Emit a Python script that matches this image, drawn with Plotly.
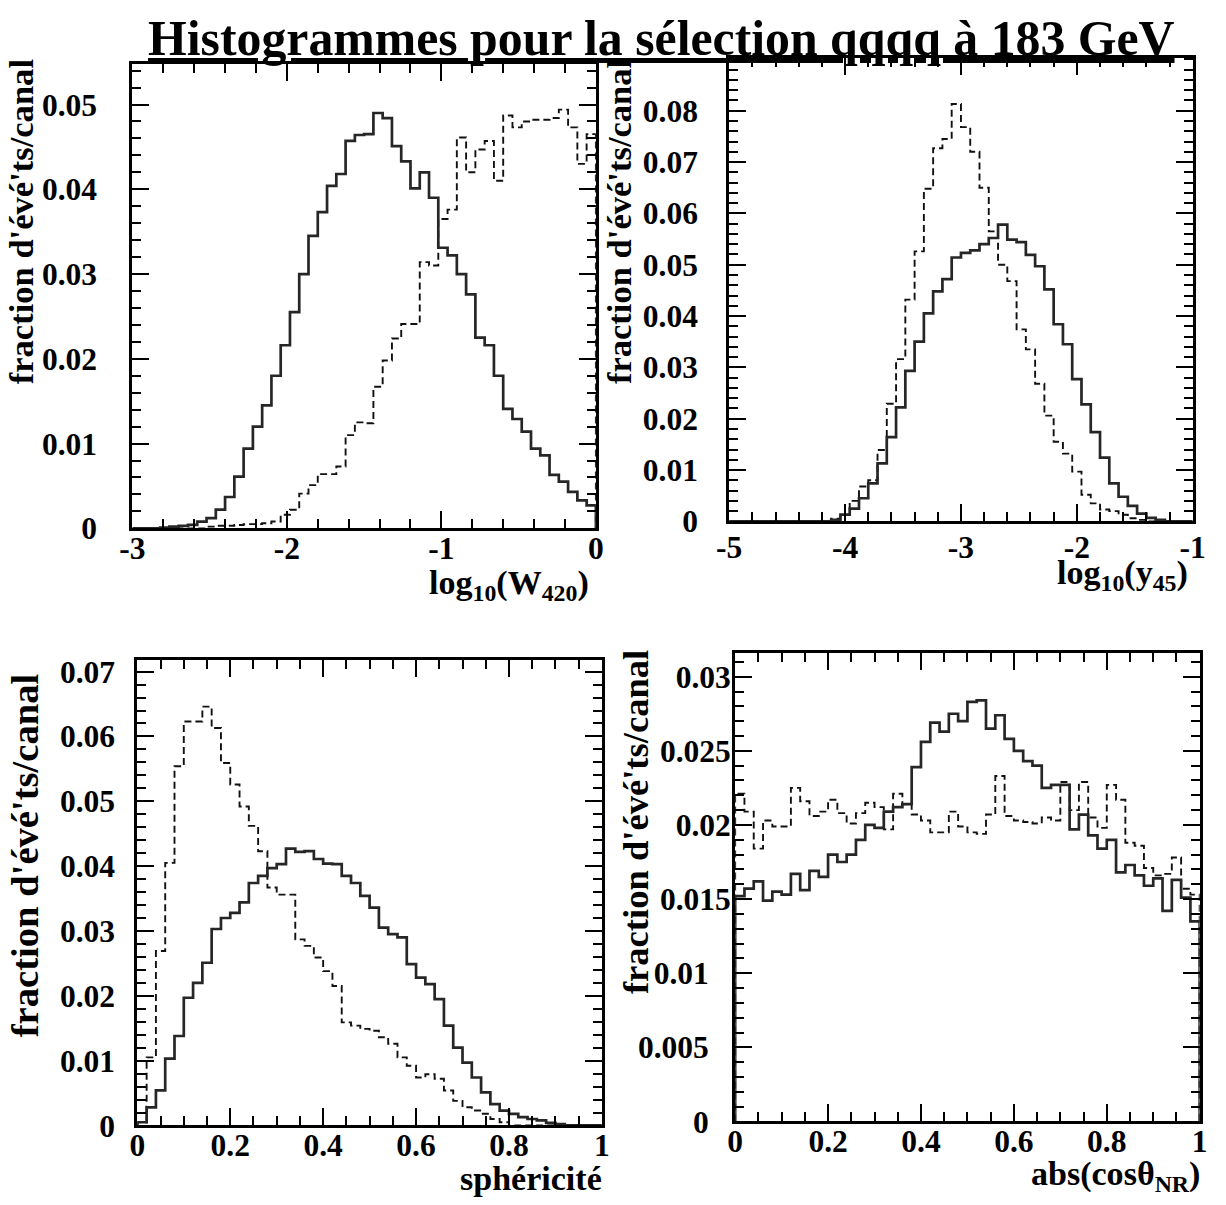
import numpy as np
import plotly.graph_objects as go

W, H = 1226, 1205
# the photographed page comes out slightly reduced (about 0.984) and shifted;
# target pixel positions (read on the reference) are mapped back through this.
S, OX, OY = 0.984, 10.0, 3.0

# ---------------- data (50 bins per histogram) ----------------
w420_lo, w420_hi = -3.0, 0.0
w420_solid = [0, 0, 0, 0.0001, 0.0002, 0.0003, 0.0004, 0.0008, 0.0012, 0.0022,
              0.0037, 0.0061, 0.0094, 0.0120, 0.0145, 0.0180, 0.0216, 0.0255, 0.0300, 0.0345,
              0.0373, 0.0404, 0.0418, 0.0457, 0.0464, 0.0465, 0.0490, 0.0484, 0.0451, 0.0433,
              0.0401, 0.0420, 0.0390, 0.0331, 0.0322, 0.0300, 0.0276, 0.0225, 0.0216, 0.0180,
              0.0141, 0.0129, 0.0114, 0.0094, 0.0086, 0.0063, 0.0055, 0.0043, 0.0033, 0.0027]
w420_dashed = [0, 0, 0, 0, 0, 0, 0, 0, 0.0002, 0.0003,
               0.0003, 0.0004, 0.0005, 0.0005, 0.0006, 0.0008, 0.0016, 0.0022, 0.0041, 0.0051,
               0.0064, 0.0064, 0.0073, 0.0110, 0.0125, 0.0124, 0.0167, 0.0198, 0.0224, 0.0241,
               0.0241, 0.0314, 0.0310, 0.0365, 0.0376, 0.0461, 0.0420, 0.0447, 0.0457, 0.0410,
               0.0487, 0.0473, 0.0480, 0.0482, 0.0482, 0.0484, 0.0494, 0.0473, 0.0430, 0.0465]

y45_lo, y45_hi = -5.0, -1.0
y45_solid = [0, 0, 0, 0, 0, 0, 0, 0, 0, 0,
             0, 0.0003, 0.0013, 0.0025, 0.0045, 0.0074, 0.0113, 0.0164, 0.0222, 0.0293,
             0.0350, 0.0405, 0.0448, 0.0472, 0.0514, 0.0523, 0.0528, 0.0540, 0.0552, 0.0578,
             0.0549, 0.0544, 0.0519, 0.0497, 0.0452, 0.0384, 0.0345, 0.0277, 0.0228, 0.0174,
             0.0124, 0.0074, 0.0048, 0.0030, 0.0015, 0.0007, 0.0003, 0, 0, 0]
y45_dashed = [0, 0, 0, 0, 0, 0, 0, 0, 0, 0,
              0, 0.0005, 0.0013, 0.0040, 0.0068, 0.0080, 0.0139, 0.0229, 0.0316, 0.0432,
              0.0526, 0.0648, 0.0727, 0.0745, 0.0813, 0.0768, 0.0720, 0.0650, 0.0565, 0.0500,
              0.0468, 0.0374, 0.0335, 0.0268, 0.0206, 0.0155, 0.0132, 0.0097, 0.0052, 0.0035,
              0.0023, 0.0020, 0.0013, 0.0006, 0.0003, 0, 0, 0, 0, 0]

sph_lo, sph_hi = 0.0, 1.0
sph_solid = [0.0005, 0.0028, 0.0054, 0.0103, 0.0138, 0.0197, 0.0220, 0.0251, 0.0303, 0.0320,
             0.0328, 0.0344, 0.0374, 0.0385, 0.0397, 0.0403, 0.0427, 0.0422, 0.0423, 0.0411,
             0.0404, 0.0403, 0.0385, 0.0374, 0.0354, 0.0336, 0.0305, 0.0295, 0.0290, 0.0249,
             0.0228, 0.0218, 0.0195, 0.0154, 0.0120, 0.0097, 0.0074, 0.0051, 0.0033, 0.0023,
             0.0018, 0.0013, 0.0010, 0.0008, 0.0004, 0.0002, 0, 0, 0, 0]
sph_dashed = [0.0005, 0.0105, 0.0269, 0.0405, 0.0554, 0.0623, 0.0623, 0.0646, 0.0613, 0.0559,
              0.0526, 0.0492, 0.0462, 0.0423, 0.0367, 0.0356, 0.0356, 0.0287, 0.0277, 0.0259,
              0.0238, 0.0215, 0.0159, 0.0154, 0.0149, 0.0146, 0.0136, 0.0126, 0.0105, 0.0092,
              0.0074, 0.0079, 0.0072, 0.0054, 0.0038, 0.0028, 0.0023, 0.0018, 0.0010, 0.0005,
              0, 0, 0, 0, 0, 0, 0, 0, 0, 0]

cos_lo, cos_hi = 0.0, 1.0
cos_solid = [0.0152, 0.0157, 0.0162, 0.0149, 0.0155, 0.0153, 0.0167, 0.0156, 0.0169, 0.0165,
             0.0180, 0.0175, 0.0180, 0.0190, 0.0200, 0.0198, 0.0209, 0.0212, 0.0214, 0.0239,
             0.0256, 0.0269, 0.0263, 0.0275, 0.0270, 0.0283, 0.0284, 0.0265, 0.0274, 0.0258,
             0.0250, 0.0243, 0.0240, 0.0225, 0.0227, 0.0227, 0.0197, 0.0207, 0.0193, 0.0184,
             0.0190, 0.0168, 0.0173, 0.0166, 0.0159, 0.0164, 0.0142, 0.0163, 0.0151, 0.0135]
cos_dashed = [0.0221, 0.0209, 0.0184, 0.0203, 0.0199, 0.0199, 0.0225, 0.0216, 0.0206, 0.0209,
              0.0217, 0.0208, 0.0201, 0.0208, 0.0215, 0.0212, 0.0197, 0.0221, 0.0214, 0.0207,
              0.0203, 0.0195, 0.0195, 0.0209, 0.0199, 0.0195, 0.0194, 0.0207, 0.0233, 0.0206,
              0.0203, 0.0202, 0.0201, 0.0205, 0.0203, 0.0229, 0.0210, 0.0229, 0.0205, 0.0198,
              0.0227, 0.0217, 0.0188, 0.0186, 0.0171, 0.0166, 0.0167, 0.0178, 0.0157, 0.0153]

# tick labels
w420_ticks = [-3, -2, -1, 0]
w420_ticktext = ["-3", "-2", "-1", "0"]
y45_ticks = [-5, -4, -3, -2, -1]
y45_ticktext = ["-5", "-4", "-3", "-2", "-1"]
unit_ticks = [0, 0.2, 0.4, 0.6, 0.8, 1.0]
unit_ticktext = ["0", "0.2", "0.4", "0.6", "0.8", "1"]
yt1 = [0, 0.01, 0.02, 0.03, 0.04, 0.05]
yt1_text = ["0", "0.01", "0.02", "0.03", "0.04", "0.05"]
yt2 = [0, 0.01, 0.02, 0.03, 0.04, 0.05, 0.06, 0.07, 0.08]
yt2_text = ["0", "0.01", "0.02", "0.03", "0.04", "0.05", "0.06", "0.07", "0.08"]
yt3 = [0, 0.01, 0.02, 0.03, 0.04, 0.05, 0.06, 0.07]
yt3_text = ["0", "0.01", "0.02", "0.03", "0.04", "0.05", "0.06", "0.07"]
yt4 = [0, 0.005, 0.01, 0.015, 0.02, 0.025, 0.03]
yt4_text = ["0\u2002\u2009", "0.005\u2002\u2009", "0.01\u2002\u2009", "0.015", "0.02", "0.025", "0.03"]

title_text = "Histogrammes pour la sélection qqqq à 183 GeV"
ylab = "fraction d'évé'ts/canal"

# ---------------- helpers ----------------
def step_xy(lo, hi, vals):
    vals = list(vals)
    edges = np.linspace(lo, hi, len(vals) + 1)
    x = [edges[0]] + list(edges[:-1]) + [edges[-1], edges[-1]]
    y = [0] + vals + [vals[-1], 0]
    return x, y

FONT = "Liberation Serif"
SOLID = dict(color="#262626", width=2.7, shape="hv")
DASH = dict(color="#111111", width=1.9, shape="hv", dash="7px,4px")

fig = go.Figure()
panels = [
    (w420_lo, w420_hi, w420_solid, w420_dashed, "x", "y"),
    (y45_lo, y45_hi, y45_solid, y45_dashed, "x2", "y2"),
    (sph_lo, sph_hi, sph_solid, sph_dashed, "x3", "y3"),
    (cos_lo, cos_hi, cos_solid, cos_dashed, "x4", "y4"),
]
for lo, hi, s, d, xa, ya in panels:
    xs, ys = step_xy(lo, hi, d)
    fig.add_trace(go.Scatter(x=xs, y=ys, mode="lines", line=DASH, xaxis=xa, yaxis=ya,
                             showlegend=False, hoverinfo="skip"))
    xs, ys = step_xy(lo, hi, s)
    fig.add_trace(go.Scatter(x=xs, y=ys, mode="lines", line=SOLID, xaxis=xa, yaxis=ya,
                             showlegend=False, hoverinfo="skip"))

def fx(px):
    return ((px - OX) / S) / W

def fy(py):
    return 1 - ((py - OY) / S) / H

def fs(size):
    return size / S

def px_dom_x(a, b):
    return [fx(a), fx(b)]

def px_dom_y(top, bot):
    return [fy(bot), fy(top)]

tickfont = dict(family=FONT, size=fs(31), color="black", weight="bold")

def xaxis(dom, rng, tv, tt, minor, anchor, standoff):
    return dict(domain=dom, range=rng, tickvals=tv, ticktext=tt, anchor=anchor,
                showline=True, linewidth=3, linecolor="black", mirror="allticks",
                ticks="inside", ticklen=17, tickwidth=2, tickcolor="black",
                minor=dict(ticks="inside", ticklen=9, tickwidth=1.5, dtick=minor, tickcolor="black"),
                showgrid=False, zeroline=False, tickfont=tickfont, ticklabelstandoff=standoff)

def yaxis(dom, rng, tv, tt, minor, anchor, standoff):
    return dict(domain=dom, range=rng, tickvals=tv, ticktext=tt, anchor=anchor,
                showline=True, linewidth=3, linecolor="black", mirror="allticks",
                ticks="inside", ticklen=17, tickwidth=2, tickcolor="black",
                minor=dict(ticks="inside", ticklen=9, tickwidth=1.5, dtick=minor, tickcolor="black"),
                showgrid=False, zeroline=False, tickfont=tickfont, ticklabelstandoff=standoff)

fig.update_layout(
    width=W, height=H, margin=dict(l=0, r=0, t=0, b=0), autosize=False,
    paper_bgcolor="white", plot_bgcolor="white",
    xaxis=xaxis(px_dom_x(130, 596), [w420_lo, w420_hi], w420_ticks, w420_ticktext, 0.2, "y", -10),
    yaxis=yaxis(px_dom_y(62, 528), [0, 0.0548], yt1, yt1_text, 0.002, "x", 26),
    xaxis2=xaxis(px_dom_x(730, 1196), [y45_lo, y45_hi], y45_ticks, y45_ticktext, 0.2, "y2", -4),
    yaxis2=yaxis(px_dom_y(56, 521), [0, 0.0903], yt2, yt2_text, 0.002, "x2", 22),
    xaxis3=xaxis(px_dom_x(135, 602), [sph_lo, sph_hi], unit_ticks, unit_ticktext, 0.05, "y3", -10),
    yaxis3=yaxis(px_dom_y(660, 1127), [0, 0.0718], yt3, yt3_text, 0.002, "x3", 13),
    xaxis4=xaxis(px_dom_x(736, 1203), [cos_lo, cos_hi], unit_ticks, unit_ticktext, 0.05, "y4", -10),
    yaxis4=yaxis(px_dom_y(653, 1123), [0, 0.0316], yt4, yt4_text, 0.001, "x4", -5),
)

def ann(text, xpx, ypx, xanchor="center", yanchor="middle", size=32, angle=0):
    fig.add_annotation(text=text, x=fx(xpx), y=fy(ypx), xref="paper", yref="paper",
                       xanchor=xanchor, yanchor=yanchor, showarrow=False, textangle=angle,
                       font=dict(family=FONT, size=fs(size), color="black", weight="bold"))

ann("<u>" + title_text + "</u>", 662, 37, size=49)
ann(ylab, 18, 220, size=34, angle=-90)
ann(ylab, 620, 220, size=34, angle=-90)
ann(ylab, 22, 856, size=38, angle=-90)
ann(ylab, 636, 823, size=36, angle=-90)
ann("log<sub>10</sub>(W<sub>420</sub>)", 591, 585, xanchor="right", size=33.5)
ann("log<sub>10</sub>(y<sub>45</sub>)", 1193, 575, xanchor="right", size=33.5)
ann("sphéricité", 604, 1180, xanchor="right", size=33.5)
ann("abs(cosθ<sub>NR</sub>)", 1205, 1178, xanchor="right", size=33.5)

fig.write_html("out.html")
